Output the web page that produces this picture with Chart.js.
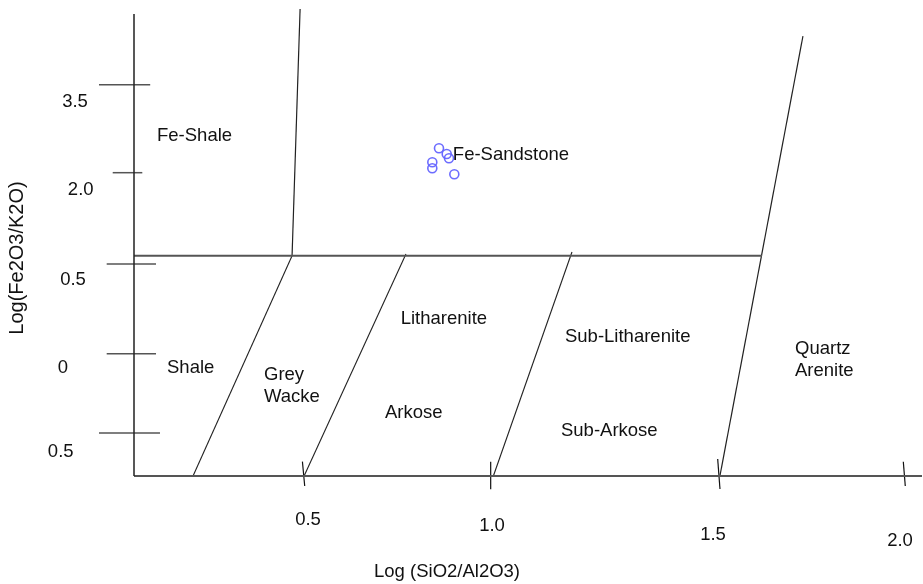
<!DOCTYPE html>
<html>
<head>
<meta charset="utf-8">
<script src="https://cdn.jsdelivr.net/npm/chart.js@4.4.1/dist/chart.umd.min.js"></script>
<style>
	html, body { margin: 0; padding: 0; background: #fff; overflow: hidden; }
	canvas { display: block; }
</style>
</head>
<body>
<canvas id="herronChart" width="923" height="584"></canvas>
<script>
// axis ranges (Log SiO2/Al2O3 across, Log Fe2O3/K2O up)
const xRange = [0.0798, 2.0449];
const yRange = [-0.7333, 1.9563];

// axis lines
const yAxisLine = [[0.0798, 1.922], [0.0798, -0.7333]];
const xAxisLine = [[0.0798, -0.7333], [2.0449, -0.7333]];

// field boundaries
const feBoundary = [[0.0798, 0.533], [1.646, 0.533]];
const feShaleLine = [[0.474, 0.533], [0.494, 1.951]];
const quartzLine = [[1.541, -0.733], [1.748, 1.795]];
const shaleLine = [[0.227, -0.733], [0.474, 0.533]];
const wackeLine = [[0.504, -0.733], [0.758, 0.5425]];
const lithLine = [[0.976, -0.733], [1.172, 0.554]];

// samples
const sampleX = [0.8404, 0.8596, 0.8653, 0.8237, 0.8237, 0.8786];
const sampleY = [1.150, 1.117, 1.0925, 1.0695, 1.035, 1.0006];

// tick marks and tick labels
const xTickLabels = ['0.5', '1.0', '1.5', '2.0'];
const xTickTop = [0.4998, 0.9693, 1.5354, 1.9983];
const xTickBottom = [0.5055, 0.9693, 1.5411, 2.0032];
const xTickY = [[-0.651, -0.791], [-0.651, -0.810], [-0.636, -0.808], [-0.651, -0.791]];
const xLabelX = [0.5137, 0.9726, 1.5237, 1.99];
const xLabelY = [-0.9851, -1.0195, -1.0713, -1.1057];

const yTickLabels = ['3.5', '2.0', '0.5', '0', '0.5'];
const yTickValues = [1.5155, 1.0098, 0.4851, -0.0305, -0.4862];
const yTickFrom = [-0.0075, 0.0267, 0.0117, 0.0117, -0.0075];
const yTickTo = [0.1202, 0.1005, 0.1347, 0.1347, 0.1446];
const yLabelX = [-0.0673, -0.0531, -0.0723, -0.0973, -0.103];
const yLabelY = [1.4178, 0.9103, 0.3931, -0.1126, -0.5937];

// field names
const fieldNames = ['Fe-Shale', 'Fe-Sandstone', 'Litharenite', 'Sub-Litharenite', 'Shale', 'Grey', 'Wacke', 'Arkose', 'Sub-Arkose', 'Quartz', 'Arenite'];
const fieldX = [0.1372, 0.875, 0.7449, 1.1546, 0.1621, 0.404, 0.404, 0.7057, 1.1446, 1.7282, 1.7282];
const fieldY = [1.2207, 1.1115, 0.169, 0.0678, -0.1126, -0.1529, -0.2793, -0.3707, -0.4713, -0.0023, -0.1287];

const xTitle = 'Log (SiO2/Al2O3)';
const yTitle = 'Log(Fe2O3/K2O)';
const xTitlePos = [0.8604, -1.285];
const yTitlePos = [-0.212, 0.5195];

function toPoints(pairs) {
	return pairs.map(p => ({ x: p[0], y: p[1] }));
}

function lineSet(pairs, color, width) {
	return {
		data: toPoints(pairs),
		showLine: true,
		borderColor: color,
		borderWidth: width,
		pointRadius: 0,
		clip: false
	};
}

const datasets = [
	lineSet(yAxisLine, '#222', 1.5),
	lineSet(xAxisLine, '#555', 2),
	lineSet(feBoundary, '#555', 2),
	lineSet(feShaleLine, '#222', 1.2),
	lineSet(quartzLine, '#222', 1.2),
	lineSet(shaleLine, '#222', 1.1),
	lineSet(wackeLine, '#222', 1.1),
	lineSet(lithLine, '#222', 1.1)
];

xTickLabels.forEach((lbl, i) => {
	datasets.push(lineSet([[xTickTop[i], xTickY[i][0]], [xTickBottom[i], xTickY[i][1]]], '#111', 1.2));
});
yTickValues.forEach((v, i) => {
	datasets.push(lineSet([[yTickFrom[i], v], [yTickTo[i], v]], '#555', 1.5));
});

datasets.push({
	data: sampleX.map((x, i) => ({ x: x, y: sampleY[i] })),
	showLine: false,
	pointStyle: 'circle',
	pointRadius: 4.5,
	borderWidth: 1.6,
	borderColor: 'rgba(100, 100, 255, 0.95)',
	backgroundColor: 'rgba(0,0,0,0)',
	clip: false
});

const diagramText = {
	id: 'diagramText',
	afterDatasetsDraw(chart) {
		const { ctx, scales } = chart;
		const px = v => scales.x.getPixelForValue(v);
		const py = v => scales.y.getPixelForValue(v);
		ctx.save();
		ctx.font = '18.5px "Liberation Sans", Arial, sans-serif';
		ctx.fillStyle = '#111';
		ctx.textBaseline = 'middle';

		ctx.textAlign = 'left';
		fieldNames.forEach((name, i) => ctx.fillText(name, px(fieldX[i]), py(fieldY[i])));

		ctx.textAlign = 'center';
		xTickLabels.forEach((lbl, i) => ctx.fillText(lbl, px(xLabelX[i]), py(xLabelY[i])));
		yTickLabels.forEach((lbl, i) => ctx.fillText(lbl, px(yLabelX[i]), py(yLabelY[i])));

		ctx.fillText(xTitle, px(xTitlePos[0]), py(xTitlePos[1]));

		ctx.font = '20px "Liberation Sans", Arial, sans-serif';
		ctx.translate(px(yTitlePos[0]), py(yTitlePos[1]));
		ctx.rotate(-Math.PI / 2);
		ctx.fillText(yTitle, 0, 0);
		ctx.restore();
	}
};

new Chart(document.getElementById('herronChart').getContext('2d'), {
	type: 'scatter',
	data: { datasets: datasets },
	options: {
		responsive: false,
		animation: false,
		layout: { autoPadding: false, padding: { left: 134, right: 1, top: 8, bottom: 108 } },
		scales: {
			x: { type: 'linear', display: false, min: xRange[0], max: xRange[1] },
			y: { type: 'linear', display: false, min: yRange[0], max: yRange[1] }
		},
		plugins: {
			legend: { display: false },
			tooltip: { enabled: false }
		}
	},
	plugins: [diagramText]
});
</script>
</body>
</html>
